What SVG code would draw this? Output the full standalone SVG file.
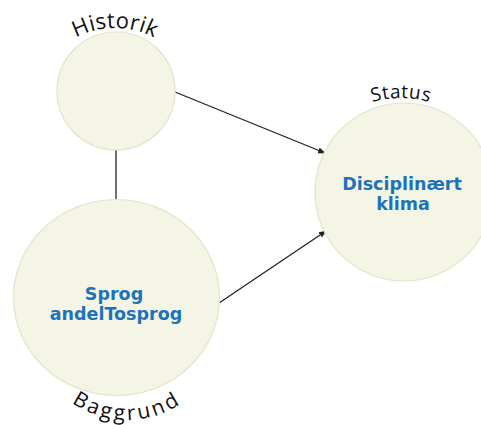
<svg xmlns="http://www.w3.org/2000/svg" xmlns:xlink="http://www.w3.org/1999/xlink" width="481" height="425" viewBox="0 0 481 425">
<style>
.node{fill:#F5F5E6;stroke:#E3E3CF;stroke-width:1.2}
.lbl{font-family:"DejaVu Sans",Verdana,sans-serif;font-weight:bold;font-size:17.5px;fill:#1C73BA;text-anchor:middle}
.arc{font-family:"Open Sans","Liberation Sans",sans-serif;fill:#111;text-anchor:middle}
.edge{stroke:#222;stroke-width:1.3;fill:none}
</style>
<defs>
<marker id="ah" markerWidth="8" markerHeight="6" refX="7" refY="3" orient="auto" markerUnits="userSpaceOnUse">
<path d="M0,0 L8,3 L0,6 Z" fill="#222"/>
</marker>
<path id="pHist" d="M 30 113 A 85 85 0 0 1 200 113"/>
<path id="pStat" d="M 301 198 A 100 100 0 0 1 501 198"/>
<path id="pBag" d="M 30 323 A 97 97 0 0 0 224 323"/>
</defs>
<rect width="481" height="425" fill="#fff"/>
<g id="connectors">
<line class="edge" x1="116" y1="150" x2="116" y2="200"/>
<line class="edge" x1="175" y1="92" x2="325" y2="153" marker-end="url(#ah)"/>
<line class="edge" x1="219" y1="303" x2="326" y2="231" marker-end="url(#ah)"/>
</g>
<g id="historik">
<circle class="node" cx="116" cy="91" r="59"/>
<text class="arc" font-size="22" letter-spacing="0.3"><textPath xlink:href="#pHist" href="#pHist" startOffset="50%">Historik</textPath></text>
</g>
<g id="status">
<circle class="node" cx="404" cy="192" r="89"/>
<text class="arc" font-size="19" letter-spacing="0.5"><textPath xlink:href="#pStat" href="#pStat" startOffset="50%">Status</textPath></text>
<text class="lbl" x="402" y="190">Disciplinært</text>
<text class="lbl" x="403" y="210">klima</text>
</g>
<g id="baggrund">
<ellipse class="node" cx="116.5" cy="297.5" rx="103" ry="98"/>
<text class="arc" font-size="21" letter-spacing="2.8"><textPath xlink:href="#pBag" href="#pBag" startOffset="50%">Baggrund</textPath></text>
<text class="lbl" x="114" y="300">Sprog</text>
<text class="lbl" x="116" y="320">andelTosprog</text>
</g>
</svg>
